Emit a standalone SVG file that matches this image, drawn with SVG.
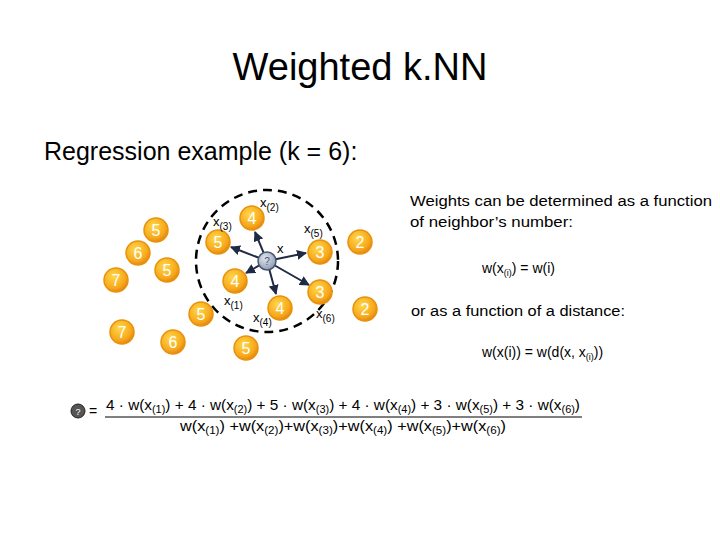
<svg xmlns="http://www.w3.org/2000/svg" width="720" height="540" viewBox="0 0 720 540">
<defs>
<radialGradient id="og" cx="0.4" cy="0.35" r="0.7"><stop offset="0" stop-color="#ffd84a"/><stop offset="0.7" stop-color="#f7a81c"/><stop offset="1" stop-color="#e07f10"/></radialGradient>
<radialGradient id="gg" cx="0.4" cy="0.35" r="0.7"><stop offset="0" stop-color="#dfe6f0"/><stop offset="1" stop-color="#8a98b0"/></radialGradient>
<marker id="ah" viewBox="0 0 10 10" refX="9" refY="5" markerWidth="5" markerHeight="5" orient="auto"><path d="M0,0 L10,5 L0,10 z" fill="#1f2a44"/></marker>
</defs>
<style>
text{font-family:"Liberation Sans","DejaVu Sans",sans-serif;}
.n circle{fill:url(#og);stroke:#e8920c;stroke-width:1.5}
.n text{font-size:16px;fill:#fff;text-anchor:middle}
.lb{font-size:13px;fill:#000}
.r{font-size:14px;fill:#000}
.f{font-size:14px;fill:#000}
.c line{stroke:#1f2a44;stroke-width:2;marker-end:url(#ah)}
</style>
<rect width="720" height="540" fill="#fff"/>
<text x="360" y="80" font-size="38" text-anchor="middle">Weighted k.NN</text>
<text x="44" y="160" font-size="25">Regression example (k = 6):</text>
<circle cx="267" cy="261" r="71" fill="none" stroke="#000" stroke-width="2.5" stroke-dasharray="9,6"/>
<g class="c">
<line x1="267" y1="261" x2="231" y2="247"/>
<line x1="267" y1="261" x2="255" y2="232"/>
<line x1="267" y1="261" x2="306" y2="253"/>
<line x1="267" y1="261" x2="246" y2="273"/>
<line x1="267" y1="261" x2="276" y2="294"/>
<line x1="267" y1="261" x2="309" y2="285"/>
</g>
<g id="n1" class="n"><circle cx="156" cy="230" r="12"/><text x="156" y="236">5</text></g>
<g id="n2" class="n"><circle cx="138" cy="253" r="12"/><text x="138" y="259">6</text></g>
<g id="n3" class="n"><circle cx="167" cy="270" r="12"/><text x="167" y="276">5</text></g>
<g id="n4" class="n"><circle cx="116" cy="280" r="12"/><text x="116" y="286">7</text></g>
<g id="n5" class="n"><circle cx="122" cy="332" r="12"/><text x="122" y="338">7</text></g>
<g id="n6" class="n"><circle cx="173" cy="342" r="12"/><text x="173" y="348">6</text></g>
<g id="n7" class="n"><circle cx="201" cy="314" r="12"/><text x="201" y="320">5</text></g>
<g id="n8" class="n"><circle cx="246" cy="348" r="12"/><text x="246" y="354">5</text></g>
<g id="n9" class="n"><circle cx="218" cy="242" r="12"/><text x="218" y="248">5</text></g>
<g id="n10" class="n"><circle cx="252" cy="218" r="12"/><text x="252" y="224">4</text></g>
<g id="n11" class="n"><circle cx="320" cy="252" r="12"/><text x="320" y="258">3</text></g>
<g id="n12" class="n"><circle cx="235" cy="281" r="12"/><text x="235" y="287">4</text></g>
<g id="n13" class="n"><circle cx="280" cy="308" r="12"/><text x="280" y="314">4</text></g>
<g id="n14" class="n"><circle cx="320" cy="292" r="12"/><text x="320" y="298">3</text></g>
<g id="n15" class="n"><circle cx="360" cy="242" r="12"/><text x="360" y="248">2</text></g>
<g id="n16" class="n"><circle cx="365" cy="309" r="12"/><text x="365" y="315">2</text></g>
<g id="q"><circle cx="267" cy="261" r="9" fill="url(#gg)" stroke="#4a5570" stroke-width="1.5"/><text x="267" y="265" font-size="10" text-anchor="middle" fill="#4a5570">?</text></g>
<text class="lb" x="260" y="207">x<tspan font-size="10" dy="4">(2)</tspan></text>
<text class="lb" x="213" y="226">x<tspan font-size="10" dy="4">(3)</tspan></text>
<text class="lb" x="304" y="233">x<tspan font-size="10" dy="4">(5)</tspan></text>
<text class="lb" x="277" y="253">x</text>
<text class="lb" x="224" y="305">x<tspan font-size="10" dy="4">(1)</tspan></text>
<text class="lb" x="253" y="322">x<tspan font-size="10" dy="4">(4)</tspan></text>
<text class="lb" x="316" y="318">x<tspan font-size="10" dy="4">(6)</tspan></text>
<text class="r" x="410" y="206" textLength="302" lengthAdjust="spacingAndGlyphs">Weights can be determined as  a function</text>
<text class="r" x="410" y="227" textLength="163" lengthAdjust="spacingAndGlyphs">of neighbor’s number:</text>
<text class="r" x="482" y="273">w(x<tspan font-size="9" dy="3">(i)</tspan><tspan dy="-3">) = w(i)</tspan></text>
<text class="r" x="411" y="316" textLength="214" lengthAdjust="spacingAndGlyphs">or as a function of a distance:</text>
<text class="r" x="482" y="357">w(x(i)) = w(d(x, x<tspan font-size="9" dy="3">(i)</tspan><tspan dy="-3">))</tspan></text>
<g id="fq"><circle cx="78" cy="411" r="7" fill="#555" stroke="#222"/><text x="78" y="415" font-size="9" text-anchor="middle" fill="#fff">?</text></g>
<text class="f" x="89" y="416">=</text>
<line x1="105" y1="417" x2="582" y2="417" stroke="#000" stroke-width="1"/>
<text class="f" x="106" y="410" textLength="474" lengthAdjust="spacingAndGlyphs">4 · w(x<tspan font-size="10" dy="3">(1)</tspan><tspan dy="-3">) + 4 · w(x</tspan><tspan font-size="10" dy="3">(2)</tspan><tspan dy="-3">) + 5 · w(x</tspan><tspan font-size="10" dy="3">(3)</tspan><tspan dy="-3">) + 4 · w(x</tspan><tspan font-size="10" dy="3">(4)</tspan><tspan dy="-3">) + 3 · w(x</tspan><tspan font-size="10" dy="3">(5)</tspan><tspan dy="-3">) + 3 · w(x</tspan><tspan font-size="10" dy="3">(6)</tspan><tspan dy="-3">)</tspan></text>
<text class="f" x="180" y="431" textLength="326" lengthAdjust="spacingAndGlyphs">w(x<tspan font-size="10" dy="3">(1)</tspan><tspan dy="-3">) +w(x</tspan><tspan font-size="10" dy="3">(2)</tspan><tspan dy="-3">)+w(x</tspan><tspan font-size="10" dy="3">(3)</tspan><tspan dy="-3">)+w(x</tspan><tspan font-size="10" dy="3">(4)</tspan><tspan dy="-3">) +w(x</tspan><tspan font-size="10" dy="3">(5)</tspan><tspan dy="-3">)+w(x</tspan><tspan font-size="10" dy="3">(6)</tspan><tspan dy="-3">)</tspan></text>
</svg>
